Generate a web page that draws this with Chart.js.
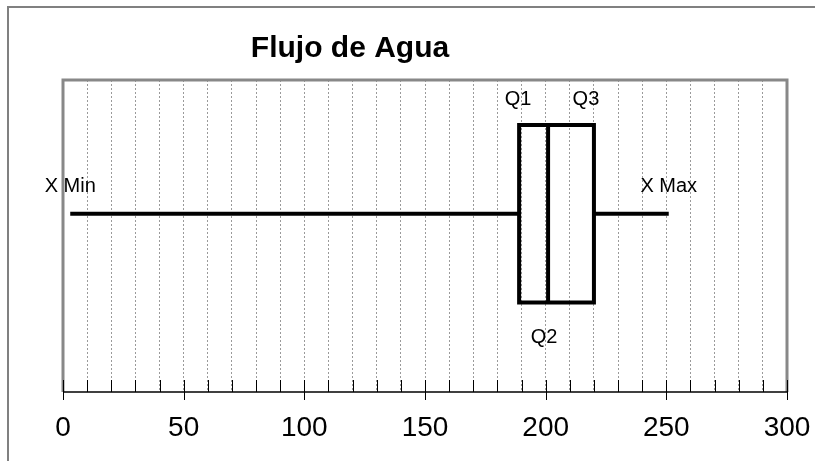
<!DOCTYPE html>
<html>
<head>
<meta charset="utf-8">
<script src="https://cdn.jsdelivr.net/npm/chart.js@4/dist/chart.umd.min.js"></script>
<style>
  body { margin: 0; background: #fff; }
</style>
</head>
<body>
<canvas id="boxChart" width="815" height="461"></canvas>
<script>
// Datos del diagrama de caja
const statLabels = ['X Min', 'Q1', 'Q2', 'Q3', 'X Max'];
const statValues = [3, 189, 201, 220, 251];
const tickValues = [0, 50, 100, 150, 200, 250, 300];

const [xMin, q1, q2, q3, xMax] = statValues;

// altura de la caja (unidades del eje y oculto, 0..10)
const boxLow = 2.87;
const boxHigh = 8.56;
const midY = 5.71;
// posicion vertical de las etiquetas y pequeño desplazamiento horizontal
const labelY = { 'X Min': 6.41, 'Q1': 9.2, 'Q2': 1.57, 'Q3': 9.2, 'X Max': 6.41 };
const labelDx = { 'X Min': 0, 'Q1': -1, 'Q2': -4, 'Q3': -8, 'X Max': 0 };

const FONT = '"Liberation Sans", Arial, sans-serif';

// Plugin: titulo, bordes, marcas del eje y etiquetas
const decorPlugin = {
    id: 'decor',
    beforeDraw(chart) {
        const ctx = chart.ctx;
        ctx.save();
        ctx.fillStyle = '#fff';
        ctx.fillRect(0, 0, chart.width, chart.height);
        ctx.restore();
    },
    afterDraw(chart) {
        const ctx = chart.ctx;
        const area = chart.chartArea;
        const xs = chart.scales.x;
        const ys = chart.scales.y;
        ctx.save();

        // borde exterior (solo se ve arriba y a la izquierda)
        ctx.strokeStyle = '#808080';
        ctx.lineWidth = 2;
        ctx.strokeRect(8, 7, 830, 480);

        // borde del area de trazado
        ctx.strokeStyle = '#888';
        ctx.lineWidth = 3;
        ctx.beginPath();
        ctx.moveTo(area.left, area.bottom);
        ctx.lineTo(area.left, area.top);
        ctx.lineTo(area.right, area.top);
        ctx.lineTo(area.right, area.bottom);
        ctx.stroke();

        // eje x
        ctx.strokeStyle = '#000';
        ctx.lineWidth = 1.5;
        ctx.beginPath();
        ctx.moveTo(area.left, area.bottom);
        ctx.lineTo(area.right, area.bottom);
        ctx.stroke();

        ctx.lineWidth = 1;
        xs.ticks.forEach(t => {
            const px = Math.round(xs.getPixelForValue(t.value)) + 0.5;
            const major = tickValues.includes(t.value);
            ctx.beginPath();
            ctx.moveTo(px, area.bottom - 12);
            ctx.lineTo(px, area.bottom + (major ? 8 : 0));
            ctx.stroke();
        });

        // titulo
        ctx.fillStyle = '#000';
        ctx.font = 'bold 30px ' + FONT;
        ctx.textAlign = 'center';
        ctx.textBaseline = 'alphabetic';
        ctx.fillText('Flujo de Agua', 350, 57);

        // etiquetas de los valores
        ctx.font = '20px ' + FONT;
        statLabels.forEach((lab, i) => {
            const px = xs.getPixelForValue(statValues[i]) + labelDx[lab];
            const py = ys.getPixelForValue(labelY[lab]);
            ctx.fillText(lab, px, py);
        });

        ctx.restore();
    }
};

const lineStyle = {
    borderColor: '#000',
    borderWidth: 4,
    pointRadius: 0,
    showLine: true,
    fill: false,
    tension: 0,
    borderJoinStyle: 'miter',
    borderCapStyle: 'butt'
};

new Chart(document.getElementById('boxChart'), {
    type: 'scatter',
    data: {
        datasets: [
            { ...lineStyle, label: 'bigote izq', data: [{ x: xMin, y: midY }, { x: q1, y: midY }] },
            { ...lineStyle, label: 'bigote der', data: [{ x: q3, y: midY }, { x: xMax, y: midY }] },
            {
                ...lineStyle, label: 'caja', data: [
                    { x: q1, y: boxHigh }, { x: q3, y: boxHigh }, { x: q3, y: boxLow },
                    { x: q1, y: boxLow }, { x: q1, y: boxHigh }, { x: q3, y: boxHigh }
                ]
            },
            { ...lineStyle, label: 'mediana', data: [{ x: q2, y: boxLow }, { x: q2, y: boxHigh }] }
        ]
    },
    options: {
        responsive: false,
        animation: false,
        devicePixelRatio: 1,
        layout: { padding: { left: 63, right: 28, top: 80, bottom: 0 } },
        plugins: {
            legend: { display: false },
            title: { display: false },
            tooltip: { enabled: false }
        },
        scales: {
            x: {
                type: 'linear',
                min: 0,
                max: 300,
                afterFit(scale) {
                    scale.height = 69;
                    scale.paddingLeft = 0;
                    scale.paddingRight = 0;
                },
                ticks: {
                    stepSize: 10,
                    autoSkip: false,
                    maxRotation: 0,
                    padding: 19,
                    color: '#000',
                    font: { family: FONT, size: 28 },
                    callback: v => (tickValues.includes(v) ? String(v) : '')
                },
                grid: {
                    color: '#9a9a9a',
                    lineWidth: 1,
                    drawTicks: false
                },
                border: { display: false, dash: [2, 2] }
            },
            y: {
                display: false,
                min: 0,
                max: 10
            }
        }
    },
    plugins: [decorPlugin]
});
</script>
</body>
</html>
